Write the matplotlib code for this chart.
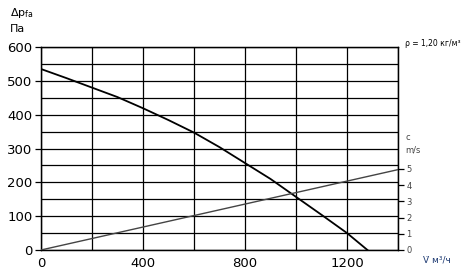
import numpy as np
import matplotlib.pyplot as plt

# fan curve
flow = [0, 100, 200, 300, 400, 500, 600, 700, 800, 900, 1000, 1100, 1200, 1280]
pressure = [535, 508, 480, 452, 419, 384, 347, 304, 257, 210, 157, 104, 50, 0]

# outlet velocity line
flow_v = [0, 1400]
velocity = [0, 4.95]

x_ticks = [0, 400, 800, 1200]
y_ticks = [0, 100, 200, 300, 400, 500, 600]
v_ticks = [0, 1, 2, 3, 4, 5]

fig = plt.figure(figsize=(4.65, 2.71), dpi=100)
ax = fig.add_axes([0.0882, 0.0775, 0.7678, 0.749])

ax.plot(flow, pressure, color='black', lw=1.3, zorder=3)

ax.set_xlim(0, 1400)
ax.set_ylim(0, 600)
ax.set_xticks(x_ticks)
ax.set_yticks(y_ticks)
ax.set_xticks(np.arange(0, 1401, 200), minor=True)
ax.set_yticks(np.arange(0, 601, 50), minor=True)
ax.grid(which='both', color='black', lw=0.9)
ax.tick_params(axis='y', which='major', length=4, width=0.9, labelsize=9.5, pad=2)
ax.tick_params(axis='x', which='major', length=0, labelsize=9.5, pad=5)
ax.tick_params(which='minor', length=0)
for s in ax.spines.values():
    s.set_linewidth(0.9)

# right axis for velocity
ax2 = ax.twinx()
ax2.plot(flow_v, velocity, color='#444444', lw=1.0, zorder=3)
ax2.set_ylim(0, 600 / 48)
ax2.set_yticks(v_ticks)
ax2.tick_params(axis='y', length=4, width=0.9, labelsize=6, labelcolor='#444444', pad=2)
for s in ax2.spines.values():
    s.set_linewidth(0.9)

fig.text(10 / 465, 1 - 13 / 271, r'$\Delta$p$_{\mathregular{fa}}$', fontsize=8, va='center')
fig.text(10 / 465, 1 - 29 / 271, 'Па', fontsize=8, va='center')
fig.text(405 / 465, 1 - 43 / 271, 'ρ = 1,20 кг/м³', fontsize=5.5, va='center')
fig.text(405 / 465, 1 - 137 / 271, 'c', fontsize=6, va='center', color='#444444')
fig.text(405 / 465, 1 - 150 / 271, 'm/s', fontsize=6, va='center', color='#444444')
fig.text(423 / 465, 1 - 260 / 271, 'V\u0307 м³/ч', fontsize=6.5, va='center', color='#1f3b73')

fig.savefig('out.png', dpi=100)
